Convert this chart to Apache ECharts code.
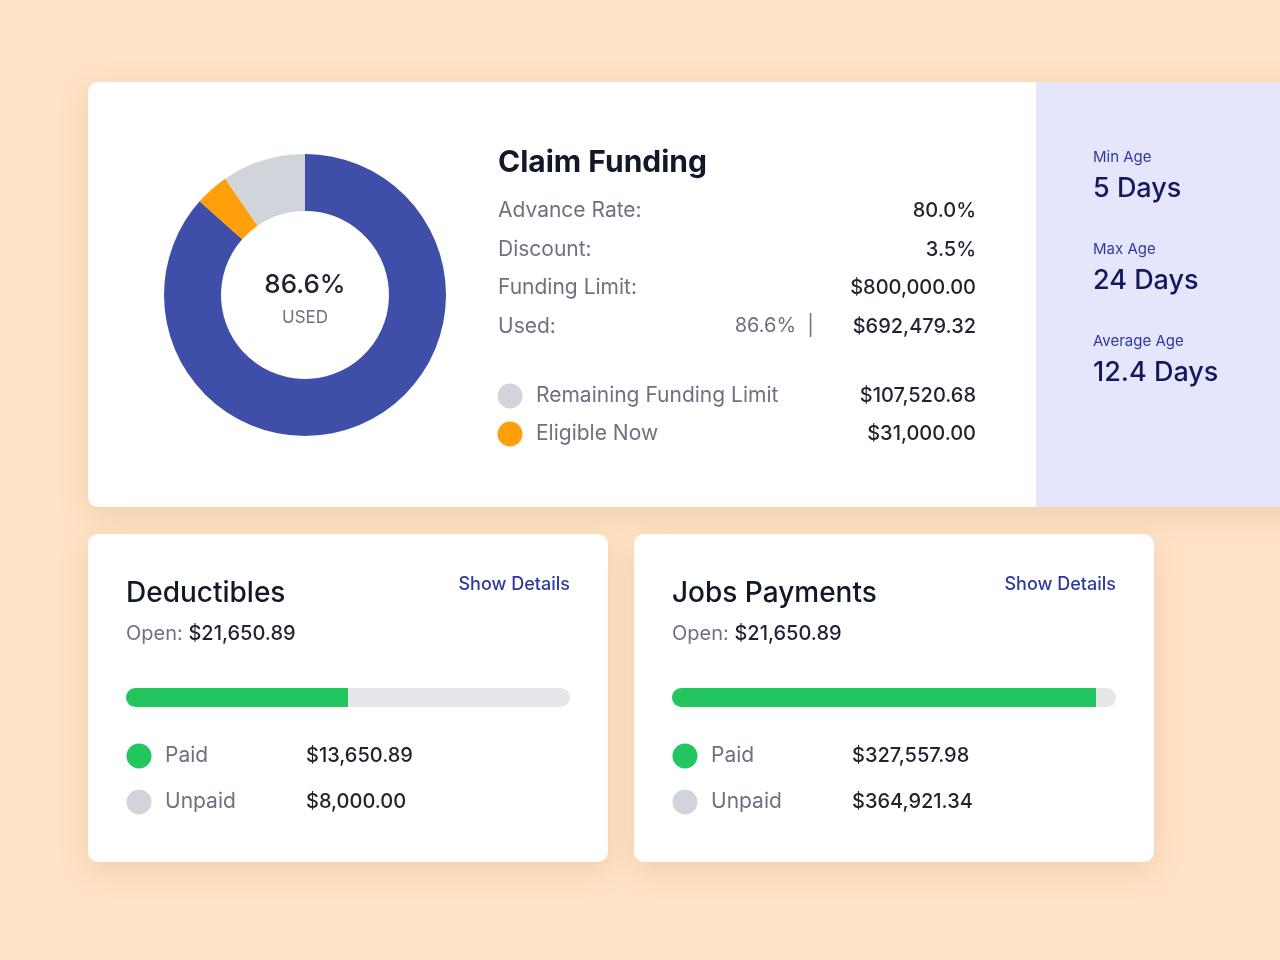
<!DOCTYPE html>
<html>
<head>
<meta charset="utf-8">
<script src="https://cdn.jsdelivr.net/npm/echarts@6/dist/echarts.min.js"></script>
<style>
  html, body { margin: 0; padding: 0; background: #ffe3c6; }
  #chart { width: 1280px; height: 960px; }
</style>
</head>
<body>
<div id="chart"></div>
<script>
// donut: used / eligible now / rest of remaining limit
const donutNames = ['Used', 'Eligible Now', 'Remaining'];
const donutValues = [692479.32, 31000.00, 76520.68];
const donutColors = ['#3f4ea8', '#ff9f0a', '#d1d5db'];

const fundingRows = [
  ['Advance Rate:', '80.0%'],
  ['Discount:', '3.5%'],
  ['Funding Limit:', '$800,000.00'],
  ['Used:', '$692,479.32']
];
const ageLabels = ['Min Age', 'Max Age', 'Average Age'];
const ageValues = ['5 Days', '24 Days', '12.4 Days'];

// progress fill fraction as drawn
const barNames = ['Deductibles', 'Jobs Payments'];
const barFill = [0.50, 0.955];
const paidText = ['$13,650.89', '$327,557.98'];
const unpaidText = ['$8,000.00', '$364,921.34'];
const openText = ['$21,650.89', '$21,650.89'];

const FONT = 'Inter, "Noto Sans", sans-serif';
const chart = echarts.init(document.getElementById('chart'));

function txt(x, y, text, size, color, weight, align) {
  return { type: 'text', x, y, z: 10, style: { text, fontSize: size, fill: color, fontWeight: weight || 400, fontFamily: FONT, align: align || 'left', verticalAlign: 'middle' } };
}
function dot(x, y, color) {
  return { type: 'circle', z: 10, shape: { cx: x, cy: y, r: 12.5 }, style: { fill: color } };
}

const shadow = { shadowBlur: 30, shadowColor: 'rgba(170,110,50,0.18)', shadowOffsetY: 8 };
const g = [
  { type: 'rect', z: 1, shape: { x: 88, y: 82, width: 1230, height: 425, r: 10 }, style: Object.assign({ fill: '#fff' }, shadow) },
  { type: 'rect', z: 2, shape: { x: 1036, y: 82, width: 244, height: 425 }, style: { fill: '#e5e5fc' } },
  { type: 'rect', z: 1, shape: { x: 88, y: 534, width: 520, height: 328, r: 10 }, style: Object.assign({ fill: '#fff' }, shadow) },
  { type: 'rect', z: 1, shape: { x: 634, y: 534, width: 520, height: 328, r: 10 }, style: Object.assign({ fill: '#fff' }, shadow) },
  txt(305, 285, '86.6%', 26, '#1f2430', 500, 'center'),
  txt(305, 318, 'USED', 17, '#6b7280', 400, 'center'),
  txt(498, 163, 'Claim Funding', 30, '#111827', 700)
];
fundingRows.forEach((r, i) => {
  const y = 211 + i * 38.5;
  g.push(txt(498, y, r[0], 21, '#6b7280'));
  g.push(txt(976, y, r[1], 20, '#1f2430', 500, 'right'));
});
g.push(txt(814, 326, '86.6%  |', 20, '#6b7280', 400, 'right'));
g.push(dot(510, 396, donutColors[2]), txt(536, 396, 'Remaining Funding Limit', 21, '#6b7280'), txt(976, 396, '$107,520.68', 20, '#1f2430', 500, 'right'));
g.push(dot(510, 434, donutColors[1]), txt(536, 434, 'Eligible Now', 21, '#6b7280'), txt(976, 434, '$31,000.00', 20, '#1f2430', 500, 'right'));
ageLabels.forEach((l, i) => {
  g.push(txt(1093, 157 + i * 92, l, 15, '#2e3a9e'));
  g.push(txt(1093, 189 + i * 92, ageValues[i], 27, '#101a5c', 500));
});
barNames.forEach((n, i) => {
  const x0 = 126 + i * 546;
  g.push(txt(x0, 594, n, 28, '#111827', 500));
  g.push(txt(x0 + 444, 585, 'Show Details', 18, '#2e3a9e', 500, 'right'));
  g.push({ type: 'text', x: x0, y: 634, z: 10, style: { text: '{a|Open: }{b|' + openText[i] + '}', verticalAlign: 'middle', rich: { a: { fontSize: 20, fill: '#6b7280', fontFamily: FONT }, b: { fontSize: 20, fill: '#1f2430', fontWeight: 500, fontFamily: FONT } } } });
  g.push(dot(x0 + 13, 756, '#22c55e'), txt(x0 + 39, 756, 'Paid', 21, '#6b7280'), txt(x0 + 180, 756, paidText[i], 20, '#1f2430', 500));
  g.push(dot(x0 + 13, 802, '#d1d5db'), txt(x0 + 39, 802, 'Unpaid', 21, '#6b7280'), txt(x0 + 180, 802, unpaidText[i], 20, '#1f2430', 500));
});

const grids = barNames.map((n, i) => ({ left: 126 + i * 546, top: 688, width: 444, height: 19 }));
chart.setOption({
  animation: false,
  grid: grids,
  xAxis: grids.map((_, i) => ({ type: 'value', gridIndex: i, min: 0, max: 1, show: false })),
  yAxis: grids.map((_, i) => ({ type: 'category', gridIndex: i, data: [barNames[i]], show: false })),
  graphic: g,
  series: [
    {
      type: 'pie', radius: [84, 141], center: [305, 295], startAngle: 90, clockwise: true,
      label: { show: false }, labelLine: { show: false }, silent: true,
      data: donutNames.map((n, i) => ({ name: n, value: donutValues[i], itemStyle: { color: donutColors[i] } }))
    }
  ].concat(barNames.map((n, i) => ({
    type: 'bar', xAxisIndex: i, yAxisIndex: i, barWidth: 19, data: [barFill[i]],
    showBackground: true, backgroundStyle: { color: '#e5e7eb', borderRadius: 10 },
    itemStyle: { color: '#22c55e', borderRadius: [10, 0, 0, 10] }, silent: true
  })))
});
</script>
</body>
</html>
